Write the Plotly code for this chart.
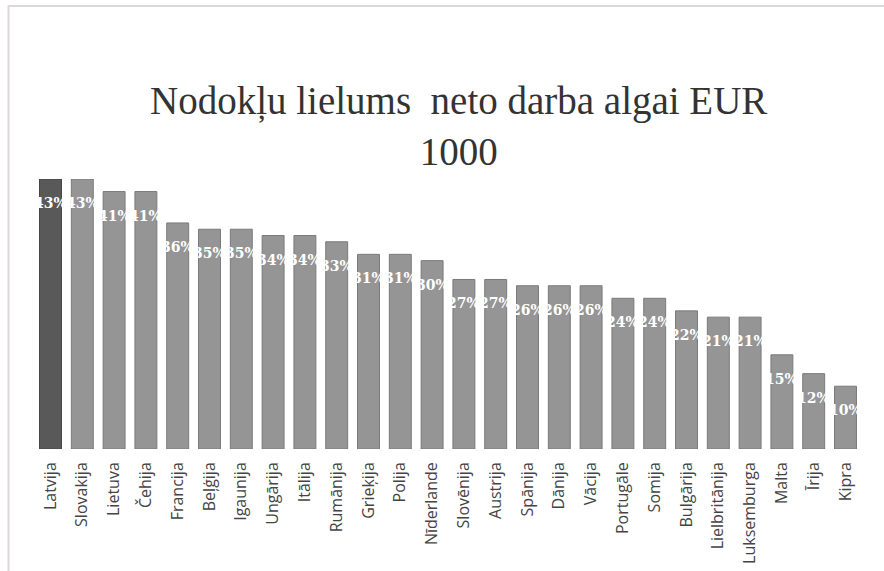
import plotly.graph_objects as go

countries = ["Latvija", "Slovakija", "Lietuva", "Čehija", "Francija", "Beļģija", "Igaunija",
             "Ungārija", "Itālija", "Rumānija", "Grieķija", "Polija", "Nīderlande", "Slovēnija",
             "Austrija", "Spānija", "Dānija", "Vācija", "Portugāle", "Somija", "Bulgārija",
             "Lielbritānija", "Luksemburga", "Malta", "Īrija", "Kipra"]
values = [43, 43, 41, 41, 36, 35, 35, 34, 34, 33, 31, 31, 30, 27, 27, 26, 26, 26, 24, 24,
          22, 21, 21, 15, 12, 10]
labels = [f"{v}%" for v in values]

colors = ["#595959"] + ["#959595"] * (len(countries) - 1)
lines = ["#444444"] + ["#7a7a7a"] * (len(countries) - 1)

fig = go.Figure()
fig.add_trace(go.Bar(
    x=countries, y=values,
    marker=dict(color=colors, line=dict(color=lines, width=1)),
    hoverinfo="x+y",
))

for c, v, t in zip(countries, values, labels):
    fig.add_annotation(x=c, y=v, text=t, showarrow=False, yshift=-24,
                       font=dict(family="DejaVu Serif", size=14, color="white", weight="bold"))

fig.add_annotation(xref="paper", yref="paper", x=0.513, y=1.0, yshift=4,
                   text="Nodokļu lielums  neto darba algai EUR<br>1000", showarrow=False,
                   yanchor="bottom",
                   font=dict(family="Liberation Serif", size=39, color="#333333"))

fig.add_shape(type="rect", xref="paper", yref="paper",
              x0=(8 - 31.5) / 832.8, x1=1.2, y0=-0.6, y1=(449 - 6) / 270,
              line=dict(color="#ddd8d8", width=2), layer="below")

fig.update_layout(
    width=884, height=571,
    margin=dict(l=31.5, r=19.7, t=179, b=122, autoexpand=False),
    plot_bgcolor="white", paper_bgcolor="white",
    bargap=0.31,
    showlegend=False,
    xaxis=dict(showline=False, ticks="", tickangle=-90, ticklabelstandoff=9, automargin=False,
               tickfont=dict(family="Open Sans", size=16, color="#444444")),
    yaxis=dict(range=[0, 43], visible=False, showgrid=False, automargin=False),
)

fig.write_html("out.html", config={"displayModeBar": False},
               post_script="document.body.style.margin='0';document.body.style.overflow='hidden';")
